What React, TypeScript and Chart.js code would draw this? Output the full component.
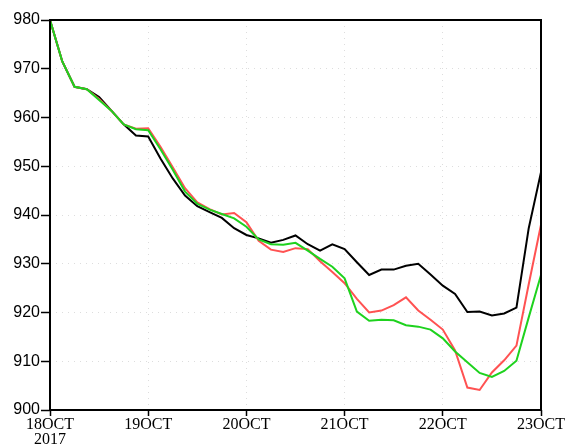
import React, { useEffect, useRef } from "react";
import { Chart, registerables } from "chart.js";

Chart.register(...registerables);

// hours since 18 OCT 2017 00Z
const hours = [
  0, 3, 6, 9, 12, 15, 18, 21, 24, 27, 30, 33, 36, 39, 42, 45, 48, 51, 54, 57, 60,
  63, 66, 69, 72, 75, 78, 81, 84, 87, 90, 93, 96, 99, 102, 105, 108, 111, 114, 117, 120,
];

const blackSeries = [
  980, 971.5, 966.3, 965.8, 964.2, 961.4, 958.6, 956.3, 956.1, 951.6, 947.5,
  944.0, 941.8, 940.6, 939.4, 937.3, 935.9, 935.2, 934.3, 934.9, 935.8,
  934.0, 932.7, 934.0, 933.0, 930.3, 927.7, 928.8, 928.8, 929.6, 930.0,
  927.8, 925.5, 923.8, 920.1, 920.2, 919.4, 919.8, 921.0, 937.3, 948.8,
];

const redSeries = [
  980, 971.5, 966.3, 965.8, 963.8, 961.4, 958.6, 957.7, 957.8, 954.0, 949.8,
  945.5, 942.6, 941.2, 940.1, 940.4, 938.5, 934.7, 932.9, 932.4, 933.2,
  933.0, 930.5, 928.3, 926.0, 922.8, 920.0, 920.4, 921.5, 923.1, 920.4,
  918.5, 916.5, 912.2, 904.6, 904.1, 907.7, 910.2, 913.2, 925.8, 938.0,
];

const greenSeries = [
  980, 971.5, 966.3, 965.8, 963.6, 961.4, 958.6, 957.6, 957.4, 953.5, 949.3,
  944.8, 942.3, 941.1, 940.2, 939.3, 937.6, 935.0, 934.0, 933.9, 934.3,
  932.7, 931.0, 929.4, 927.0, 920.2, 918.3, 918.5, 918.4, 917.4, 917.1,
  916.5, 914.7, 912.0, 909.8, 907.6, 906.8, 908.0, 910.1, 919.0, 927.7,
];

const xTickLabels = ["18OCT", "19OCT", "20OCT", "21OCT", "22OCT", "23OCT"];
const yearLabel = "2017";

const toPoints = (vals: number[]) => vals.map((v, i) => ({ x: hours[i], y: v }));

const framePlugin = {
  id: "frame",
  afterDraw(chart: any) {
    const { ctx, chartArea } = chart;
    ctx.save();
    ctx.strokeStyle = "#000";
    ctx.lineWidth = 2;
    ctx.strokeRect(chartArea.left, chartArea.top, chartArea.right - chartArea.left, chartArea.bottom - chartArea.top);
    ctx.restore();
  },
};

export default function App() {
  const ref = useRef<HTMLCanvasElement | null>(null);

  useEffect(() => {
    if (!ref.current) return;
    const gridColor = (ctx: any) => {
      const t = ctx.tick;
      if (!t) return "rgba(0,0,0,0)";
      const scale = ctx.scale;
      if (t.value === scale.min || t.value === scale.max) return "rgba(0,0,0,0)";
      return "#dddddd";
    };
    const chart = new Chart(ref.current, {
      type: "line",
      data: {
        datasets: [
          {
            label: "green",
            data: toPoints(greenSeries),
            borderColor: "#1ed21e",
            borderWidth: 2,
            pointRadius: 0,
            tension: 0,
          },
          {
            label: "red",
            data: toPoints(redSeries),
            borderColor: "#ff5252",
            borderWidth: 2,
            pointRadius: 0,
            tension: 0,
          },
          {
            label: "black",
            data: toPoints(blackSeries),
            borderColor: "#000000",
            borderWidth: 2,
            pointRadius: 0,
            tension: 0,
          },
        ],
      },
      options: {
        animation: false,
        responsive: false,
        devicePixelRatio: 1,
        layout: { padding: { top: 20, right: 26, left: 0, bottom: 0 } },
        plugins: { legend: { display: false }, tooltip: { enabled: false } },
        scales: {
          x: {
            type: "linear",
            min: 0,
            max: 120,
            afterFit: (s: any) => {
              s.height = 37;
              s.paddingLeft = 0;
              s.paddingRight = 0;
            },
            afterBuildTicks: (s: any) => {
              s.ticks = xTickLabels.map((_, i) => ({ value: i * 24 }));
            },
            ticks: {
              autoSkip: false,
              maxRotation: 0,
              minRotation: 0,
              padding: 2,
              color: "#000",
              font: { family: "'Liberation Serif', serif", size: 16, lineHeight: 0.9 },
              callback: (v: any) => {
                const i = Math.round(Number(v) / 24);
                return i === 0 ? [xTickLabels[0], yearLabel] : xTickLabels[i];
              },
            },
            grid: {
              color: gridColor,
              lineWidth: 1,
              tickColor: "#000",
              tickLength: 6,
              tickWidth: 1.5,
            },
            border: { display: false, dash: [1, 5] },
          },
          y: {
            min: 900,
            max: 980,
            afterFit: (s: any) => {
              s.width = 50;
              s.paddingTop = 0;
              s.paddingBottom = 0;
            },
            ticks: {
              stepSize: 10,
              padding: 1,
              color: "#000",
              font: { family: "'Liberation Sans', Arial, sans-serif", size: 16 },
            },
            grid: {
              color: gridColor,
              lineWidth: 1,
              tickColor: "#000",
              tickLength: 9,
              tickWidth: 1.5,
            },
            border: { display: false, dash: [1, 5] },
          },
        },
      },
      plugins: [framePlugin],
    });
    return () => chart.destroy();
  }, []);

  return (
    <div style={{ position: "fixed", left: 0, top: 0, width: 567, height: 447, background: "#fff" }}>
      <canvas ref={ref} width={567} height={447} style={{ width: 567, height: 447, display: "block" }} />
    </div>
  );
}
